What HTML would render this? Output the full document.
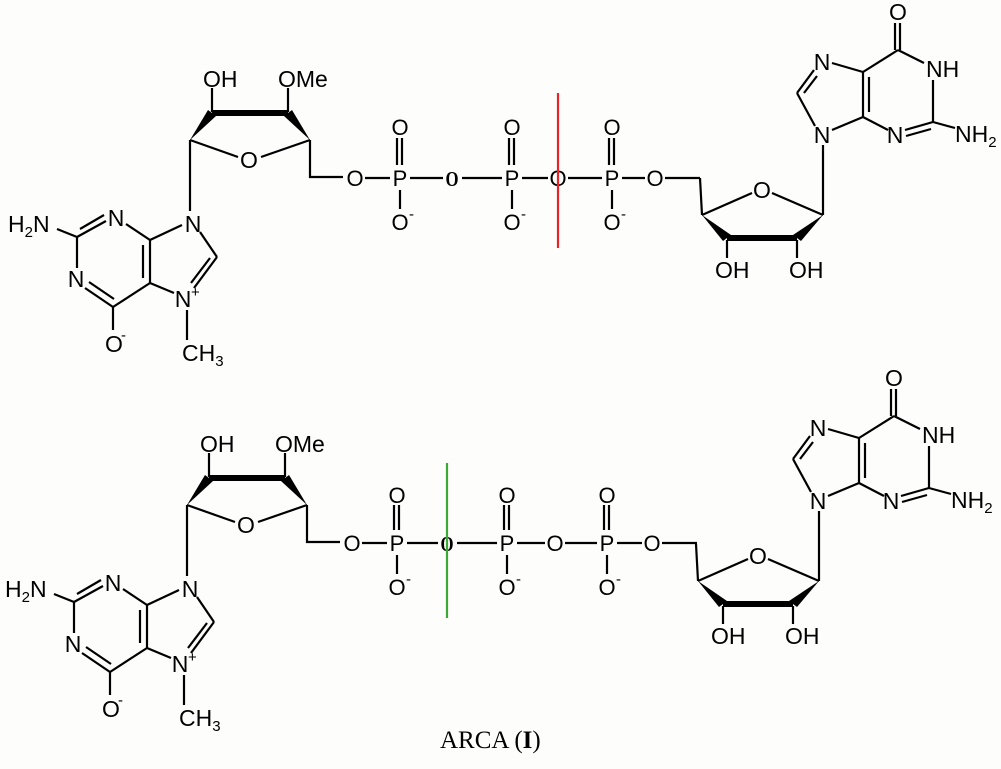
<!DOCTYPE html>
<html><head><meta charset="utf-8"><style>
html,body{margin:0;padding:0;background:#fdfdfb;}
svg{display:block;}
text{font-family:"Liberation Sans",Arial,sans-serif;font-size:23px;fill:#000;}
.c{font-size:22px;}
.s{font-size:15px;}
.b{font-family:"Liberation Serif",serif;font-weight:bold;font-size:21px;}
line,polyline{stroke:#000;stroke-width:2.2;fill:none;}
</style></head><body>
<svg width="1001" height="769" viewBox="0 0 1001 769" xmlns="http://www.w3.org/2000/svg">

<!-- ===== TOP MOLECULE ===== -->
<g>
<line x1="190" y1="140" x2="238" y2="157"/>
<line x1="261" y1="157" x2="310" y2="140"/>
<line x1="212" y1="113" x2="288" y2="113" style="stroke-width:6"/>
<polygon points="190,140 208,110 216,116" fill="#000"/>
<polygon points="310,140 284,116 292,110" fill="#000"/>
<line x1="212" y1="88" x2="212" y2="112"/>
<line x1="288" y1="88" x2="288" y2="112"/>
<polyline points="310,140 310,177 343,177"/>
<text x="203" y="87">OH</text>
<text x="278" y="87">OMe</text>
<text x="249" y="168" text-anchor="middle">O</text>
<line x1="190" y1="140" x2="190" y2="211"/>
<line x1="200" y1="232" x2="217" y2="257"/>
<line x1="217" y1="257" x2="194" y2="288"/>
<line x1="210" y1="258" x2="191" y2="283"/>
<line x1="174" y1="293" x2="150" y2="283"/>
<line x1="150" y1="283" x2="150" y2="240"/>
<line x1="143" y1="278" x2="143" y2="245"/>
<line x1="150" y1="240" x2="182" y2="225"/>
<line x1="150" y1="240" x2="126" y2="224"/>
<line x1="106" y1="221" x2="77" y2="237"/>
<line x1="104" y1="215" x2="80" y2="229"/>
<line x1="77" y1="237" x2="57" y2="229"/>
<line x1="77" y1="237" x2="77" y2="268"/>
<line x1="85" y1="288" x2="113" y2="307"/>
<line x1="89" y1="282" x2="114" y2="299"/>
<line x1="113" y1="307" x2="150" y2="283"/>
<line x1="113" y1="307" x2="113" y2="330"/>
<line x1="187" y1="310" x2="187" y2="340"/>
<text x="193" y="232" text-anchor="middle">N</text>
<text x="183" y="307" text-anchor="middle">N</text><text x="191" y="297" class="s">+</text>
<text x="116" y="226" text-anchor="middle">N</text>
<text x="76" y="287" text-anchor="middle">N</text>
<text x="8" y="232">H<tspan class="s" dy="5">2</tspan><tspan dy="-5">N</tspan></text>
<text x="105" y="352">O</text><text x="121" y="340" class="s">-</text>
<text x="182" y="361">CH<tspan class="s" dy="5">3</tspan></text>
<line x1="365" y1="178" x2="390" y2="178"/>
<line x1="410" y1="178" x2="443" y2="178"/>
<line x1="462" y1="178" x2="502" y2="178"/>
<line x1="522" y1="178" x2="548" y2="178"/>
<line x1="568" y1="178" x2="602" y2="178"/>
<line x1="622" y1="178" x2="645" y2="178"/>
<line x1="665" y1="178" x2="700" y2="178"/>
<text x="355" y="186" class="c" text-anchor="middle">O</text>
<text x="400" y="186" class="c" text-anchor="middle">P</text>
<text x="452" y="186" class="b" text-anchor="middle" transform="translate(452,186) scale(0.8,1) translate(-452,-186)">O</text>
<text x="512" y="186" class="c" text-anchor="middle">P</text>
<text x="558" y="186" class="c" text-anchor="middle">O</text>
<text x="612" y="186" class="c" text-anchor="middle">P</text>
<text x="655" y="186" class="c" text-anchor="middle">O</text>
<g>
<line x1="397" y1="138" x2="397" y2="165"/><line x1="402" y1="138" x2="402" y2="165"/>
<text x="400" y="135" class="c" text-anchor="middle">O</text>
<line x1="400" y1="190" x2="400" y2="209"/>
<text x="400" y="230" class="c" text-anchor="middle">O</text><text x="409" y="219" class="s">-</text>
</g>
<g transform="translate(112,0)">
<line x1="397" y1="138" x2="397" y2="165"/><line x1="402" y1="138" x2="402" y2="165"/>
<text x="400" y="135" class="c" text-anchor="middle">O</text>
<line x1="400" y1="190" x2="400" y2="209"/>
<text x="400" y="230" class="c" text-anchor="middle">O</text><text x="409" y="219" class="s">-</text>
</g>
<g transform="translate(212,0)">
<line x1="397" y1="138" x2="397" y2="165"/><line x1="402" y1="138" x2="402" y2="165"/>
<text x="400" y="135" class="c" text-anchor="middle">O</text>
<line x1="400" y1="190" x2="400" y2="209"/>
<text x="400" y="230" class="c" text-anchor="middle">O</text><text x="409" y="219" class="s">-</text>
</g>
<line x1="558" y1="93" x2="558" y2="248" style="stroke:#e8242a"/>
<line x1="700" y1="178" x2="702" y2="215"/>
<line x1="702" y1="215" x2="752" y2="193"/>
<line x1="772" y1="193" x2="823" y2="215"/>
<line x1="727" y1="238" x2="797" y2="238" style="stroke-width:6"/>
<polygon points="702,215 723,241 731,235" fill="#000"/>
<polygon points="823,215 793,235 801,241" fill="#000"/>
<line x1="727" y1="240" x2="727" y2="258"/>
<line x1="797" y1="240" x2="797" y2="258"/>
<text x="762" y="198" text-anchor="middle">O</text>
<text x="715" y="278">OH</text>
<text x="789" y="278">OH</text>
<line x1="823" y1="215" x2="823" y2="145"/>
<line x1="815" y1="126" x2="797" y2="93"/>
<line x1="797" y1="93" x2="814" y2="70"/>
<line x1="804" y1="93" x2="817" y2="76"/>
<line x1="832" y1="63" x2="863" y2="72"/>
<line x1="863" y1="72" x2="863" y2="117"/>
<line x1="869" y1="77" x2="869" y2="112"/>
<line x1="863" y1="117" x2="832" y2="130"/>
<line x1="863" y1="117" x2="888" y2="130"/>
<line x1="905" y1="130" x2="933" y2="122"/>
<line x1="906" y1="136" x2="931" y2="129"/>
<line x1="933" y1="122" x2="955" y2="128"/>
<line x1="933" y1="122" x2="933" y2="80"/>
<line x1="898" y1="50" x2="924" y2="63"/>
<line x1="898" y1="50" x2="863" y2="72"/>
<line x1="895" y1="23" x2="895" y2="50"/><line x1="900" y1="23" x2="900" y2="50"/>
<text x="822" y="143" text-anchor="middle">N</text>
<text x="822" y="70" text-anchor="middle">N</text>
<text x="895" y="143" text-anchor="middle">N</text>
<text x="898" y="20" text-anchor="middle">O</text>
<text x="926" y="77">NH</text>
<text x="955" y="142">NH<tspan class="s" dy="5">2</tspan></text>
</g>

<!-- ===== BOTTOM MOLECULE ===== -->
<g transform="translate(-3,365)">
<line x1="190" y1="140" x2="238" y2="157"/>
<line x1="261" y1="157" x2="310" y2="140"/>
<line x1="212" y1="113" x2="288" y2="113" style="stroke-width:6"/>
<polygon points="190,140 208,110 216,116" fill="#000"/>
<polygon points="310,140 284,116 292,110" fill="#000"/>
<line x1="212" y1="88" x2="212" y2="112"/>
<line x1="288" y1="88" x2="288" y2="112"/>
<polyline points="310,140 310,177 343,177"/>
<text x="203" y="87">OH</text>
<text x="278" y="87">OMe</text>
<text x="249" y="168" text-anchor="middle">O</text>
<line x1="190" y1="140" x2="190" y2="211"/>
<line x1="200" y1="232" x2="217" y2="257"/>
<line x1="217" y1="257" x2="194" y2="288"/>
<line x1="210" y1="258" x2="191" y2="283"/>
<line x1="174" y1="293" x2="150" y2="283"/>
<line x1="150" y1="283" x2="150" y2="240"/>
<line x1="143" y1="278" x2="143" y2="245"/>
<line x1="150" y1="240" x2="182" y2="225"/>
<line x1="150" y1="240" x2="126" y2="224"/>
<line x1="106" y1="221" x2="77" y2="237"/>
<line x1="104" y1="215" x2="80" y2="229"/>
<line x1="77" y1="237" x2="57" y2="229"/>
<line x1="77" y1="237" x2="77" y2="268"/>
<line x1="85" y1="288" x2="113" y2="307"/>
<line x1="89" y1="282" x2="114" y2="299"/>
<line x1="113" y1="307" x2="150" y2="283"/>
<line x1="113" y1="307" x2="113" y2="330"/>
<line x1="187" y1="310" x2="187" y2="340"/>
<text x="193" y="232" text-anchor="middle">N</text>
<text x="183" y="307" text-anchor="middle">N</text><text x="191" y="297" class="s">+</text>
<text x="116" y="226" text-anchor="middle">N</text>
<text x="76" y="287" text-anchor="middle">N</text>
<text x="8" y="232">H<tspan class="s" dy="5">2</tspan><tspan dy="-5">N</tspan></text>
<text x="105" y="352">O</text><text x="121" y="340" class="s">-</text>
<text x="182" y="361">CH<tspan class="s" dy="5">3</tspan></text>
</g>
<g transform="translate(0,365)">
<line x1="362" y1="178" x2="387" y2="178"/>
<line x1="407" y1="178" x2="438" y2="178"/>
<line x1="457" y1="178" x2="497" y2="178"/>
<line x1="517" y1="178" x2="545" y2="178"/>
<line x1="565" y1="178" x2="597" y2="178"/>
<line x1="617" y1="178" x2="642" y2="178"/>
<line x1="662" y1="178" x2="697" y2="178"/>
<text x="352" y="186" class="c" text-anchor="middle">O</text>
<text x="397" y="186" class="c" text-anchor="middle">P</text>
<text x="447" y="186" class="b" text-anchor="middle" transform="translate(447,186) scale(0.8,1) translate(-447,-186)">O</text>
<text x="507" y="186" class="c" text-anchor="middle">P</text>
<text x="555" y="186" class="c" text-anchor="middle">O</text>
<text x="607" y="186" class="c" text-anchor="middle">P</text>
<text x="652" y="186" class="c" text-anchor="middle">O</text>
<g transform="translate(-3,0)">
<line x1="397" y1="140" x2="397" y2="165"/><line x1="402" y1="140" x2="402" y2="165"/>
<text x="400" y="138" class="c" text-anchor="middle">O</text>
<line x1="400" y1="190" x2="400" y2="209"/>
<text x="400" y="230" class="c" text-anchor="middle">O</text><text x="409" y="219" class="s">-</text>
</g>
<g transform="translate(107,0)">
<line x1="397" y1="140" x2="397" y2="165"/><line x1="402" y1="140" x2="402" y2="165"/>
<text x="400" y="138" class="c" text-anchor="middle">O</text>
<line x1="400" y1="190" x2="400" y2="209"/>
<text x="400" y="230" class="c" text-anchor="middle">O</text><text x="409" y="219" class="s">-</text>
</g>
<g transform="translate(207,0)">
<line x1="397" y1="140" x2="397" y2="165"/><line x1="402" y1="140" x2="402" y2="165"/>
<text x="400" y="138" class="c" text-anchor="middle">O</text>
<line x1="400" y1="190" x2="400" y2="209"/>
<text x="400" y="230" class="c" text-anchor="middle">O</text><text x="409" y="219" class="s">-</text>
</g>
<line x1="447" y1="98" x2="447" y2="253" style="stroke:#3aaa35"/>
</g>
<g transform="translate(-4,366)">
<line x1="700" y1="178" x2="702" y2="215"/>
<line x1="702" y1="215" x2="752" y2="193"/>
<line x1="772" y1="193" x2="823" y2="215"/>
<line x1="727" y1="238" x2="797" y2="238" style="stroke-width:6"/>
<polygon points="702,215 723,241 731,235" fill="#000"/>
<polygon points="823,215 793,235 801,241" fill="#000"/>
<line x1="727" y1="240" x2="727" y2="258"/>
<line x1="797" y1="240" x2="797" y2="258"/>
<text x="762" y="198" text-anchor="middle">O</text>
<text x="715" y="278">OH</text>
<text x="789" y="278">OH</text>
<line x1="823" y1="215" x2="823" y2="145"/>
<line x1="815" y1="126" x2="797" y2="93"/>
<line x1="797" y1="93" x2="814" y2="70"/>
<line x1="804" y1="93" x2="817" y2="76"/>
<line x1="832" y1="63" x2="863" y2="72"/>
<line x1="863" y1="72" x2="863" y2="117"/>
<line x1="869" y1="77" x2="869" y2="112"/>
<line x1="863" y1="117" x2="832" y2="130"/>
<line x1="863" y1="117" x2="888" y2="130"/>
<line x1="905" y1="130" x2="933" y2="122"/>
<line x1="906" y1="136" x2="931" y2="129"/>
<line x1="933" y1="122" x2="955" y2="128"/>
<line x1="933" y1="122" x2="933" y2="80"/>
<line x1="898" y1="50" x2="924" y2="63"/>
<line x1="898" y1="50" x2="863" y2="72"/>
<line x1="895" y1="23" x2="895" y2="50"/><line x1="900" y1="23" x2="900" y2="50"/>
<text x="822" y="143" text-anchor="middle">N</text>
<text x="822" y="70" text-anchor="middle">N</text>
<text x="895" y="143" text-anchor="middle">N</text>
<text x="898" y="20" text-anchor="middle">O</text>
<text x="926" y="77">NH</text>
<text x="955" y="142">NH<tspan class="s" dy="5">2</tspan></text>
</g>

<text x="440" y="748" style="font-family:'Liberation Serif',serif;font-size:25px">ARCA (<tspan font-weight="bold">I</tspan>)</text>
</svg>
</body></html>
